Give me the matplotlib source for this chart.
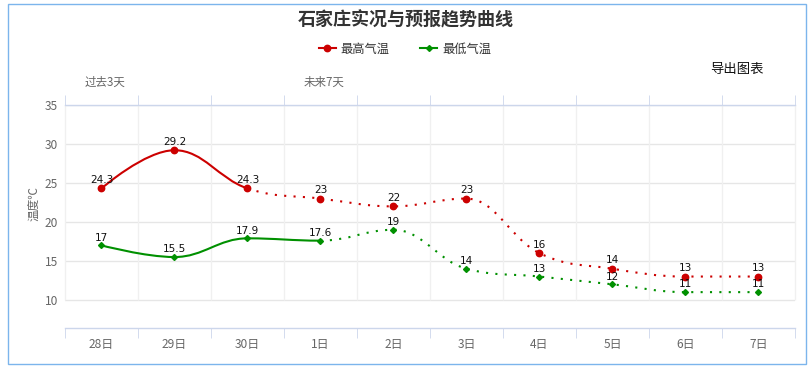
import numpy as np
import matplotlib
matplotlib.use('Agg')
import matplotlib.pyplot as plt
from matplotlib.path import Path
from matplotlib.patches import PathPatch, Rectangle
from matplotlib.lines import Line2D

plt.rcParams['font.family'] = ['Noto Sans CJK SC', 'DejaVu Sans']

dates = ['28日', '29日', '30日', '1日', '2日', '3日', '4日', '5日', '6日', '7日']
high = [24.3, 29.2, 24.3, 23, 22, 23, 16, 14, 13, 13]
low = [17, 15.5, 17.9, 17.6, 19, 14, 13, 12, 11, 11]
high_obs_end = 2   # last observed index of max temp
low_obs_end = 3    # last observed index of min temp

red = '#cc0000'
green = '#009000'
axis_col = '#ccd6eb'
grid_col = '#e6e6e6'


def spline_controls(xs, ys, smoothing=1.5):
    # highcharts style spline control points
    n = len(xs)
    left = [(xs[i], ys[i]) for i in range(n)]
    right = [(xs[i], ys[i]) for i in range(n)]
    denom = smoothing + 1
    for i in range(1, n - 1):
        px, py = xs[i], ys[i]
        lx, ly = xs[i - 1], ys[i - 1]
        nx, ny = xs[i + 1], ys[i + 1]
        lcx = (smoothing * px + lx) / denom
        lcy = (smoothing * py + ly) / denom
        rcx = (smoothing * px + nx) / denom
        rcy = (smoothing * py + ny) / denom
        corr = 0
        if rcx != lcx:
            corr = (rcy - lcy) * (rcx - px) / (rcx - lcx) + py - rcy
        lcy += corr
        rcy += corr
        if lcy > ly and lcy > py:
            lcy = max(ly, py)
            rcy = 2 * py - lcy
        elif lcy < ly and lcy < py:
            lcy = min(ly, py)
            rcy = 2 * py - lcy
        if rcy > ny and rcy > py:
            rcy = max(ny, py)
            lcy = 2 * py - rcy
        elif rcy < ny and rcy < py:
            rcy = min(ny, py)
            lcy = 2 * py - rcy
        left[i] = (lcx, lcy)
        right[i] = (rcx, rcy)
    return left, right


def spline_path(xs, ys, i0, i1):
    left, right = spline_controls(xs, ys)
    verts = [(xs[i0], ys[i0])]
    codes = [Path.MOVETO]
    for i in range(i0 + 1, i1 + 1):
        verts += [right[i - 1], left[i], (xs[i], ys[i])]
        codes += [Path.CURVE4] * 3
    return Path(verts, codes)


fig = plt.figure(figsize=(8.12, 3.68), dpi=100)
ax = fig.add_axes([65 / 812, 40 / 368, 730 / 812, 223 / 368])

x = list(range(len(dates)))
ax.set_xlim(-0.5, len(dates) - 0.5)
ax.set_ylim(6.4, 35)

# grid
yticks = [10, 15, 20, 25, 30, 35]
for yv in yticks:
    ax.axhline(yv, color=grid_col, lw=1, zorder=0)
bounds = np.arange(-0.5, len(dates), 1.0)
ax.vlines(bounds, 10, 35, color='#f0f0f0', lw=1, zorder=0, clip_on=False)

for s in ['left', 'right']:
    ax.spines[s].set_visible(False)
for s in ['top', 'bottom']:
    ax.spines[s].set_color(axis_col)
    ax.spines[s].set_linewidth(1)

ax.set_xticks(x)
ax.set_xticklabels(dates)
ax.set_xticks(bounds, minor=True)
ax.tick_params(axis='x', which='major', length=0, pad=7, labelsize=8.6, labelcolor='#666666')
ax.tick_params(axis='x', which='minor', length=7, color=axis_col, top=True, bottom=True)
ax.set_yticks(yticks)
ax.tick_params(axis='y', length=0, pad=5, labelsize=8.6, labelcolor='#666666')

# lines
for vals, col, split in [(high, red, high_obs_end), (low, green, low_obs_end)]:
    ax.add_patch(PathPatch(spline_path(x, vals, 0, split), fill=False, edgecolor=col,
                           lw=1.5, zorder=3, capstyle='round'))
    ax.add_patch(PathPatch(spline_path(x, vals, split, len(vals) - 1), fill=False, edgecolor=col,
                           lw=1.5, linestyle=(0, (1, 3.5)), zorder=3))

ax.plot(x, high, 'o', color=red, markersize=4.6, zorder=4, linestyle='none')
ax.plot(x, low, 'D', color=green, markersize=3.0, zorder=4, linestyle='none')

for xi, v in zip(x, high):
    ax.annotate('%g' % v, (xi, v), xytext=(0, 2.5), textcoords='offset points',
                ha='center', va='bottom', fontsize=7.6, color='#111111', zorder=5,
                family=['DejaVu Sans'])
for xi, v in zip(x, low):
    ax.annotate('%g' % v, (xi, v), xytext=(0, 2.0), textcoords='offset points',
                ha='center', va='bottom', fontsize=7.6, color='#111111', zorder=5,
                family=['DejaVu Sans'])

# band labels
ax.annotate('过去3天', xy=(-0.5, 1), xycoords=('data', 'axes fraction'), xytext=(14.4, 16.6),
            textcoords='offset points', ha='left', va='center', fontsize=8.3, color='#666666')
ax.annotate('未来7天', xy=(2.5, 1), xycoords=('data', 'axes fraction'), xytext=(14.4, 16.6),
            textcoords='offset points', ha='left', va='center', fontsize=8.3, color='#666666')

fig.text(34 / 812, 1 - 204 / 368, '温度℃', rotation=90, ha='center', va='center',
         fontsize=8.4, color='#666666')
fig.text(406 / 812, 1 - 20 / 368, '石家庄实况与预报趋势曲线', ha='center', va='center',
         fontsize=13, fontweight='bold', color='#333333')
fig.text(737 / 812, 1 - 69 / 368, '导出图表', ha='center', va='center', fontsize=9.6, color='#111111')

handles = [Line2D([], [], color=red, lw=1.5, marker='o', markersize=4.6),
           Line2D([], [], color=green, lw=1.5, marker='D', markersize=3.0)]
fig.legend(handles, ['最高气温', '最低气温'], loc='center', bbox_to_anchor=(405 / 812, 1 - 49 / 368),
           ncol=2, frameon=False, fontsize=8.8, handlelength=1.4, handletextpad=0.4,
           columnspacing=2.5, labelcolor='#333333')

fig.add_artist(Rectangle((8 / 812, 4 / 368), 798 / 812, 360 / 368, transform=fig.transFigure,
                         fill=False, edgecolor='#7cb5ec', lw=1))

fig.savefig('out.png', dpi=100)
